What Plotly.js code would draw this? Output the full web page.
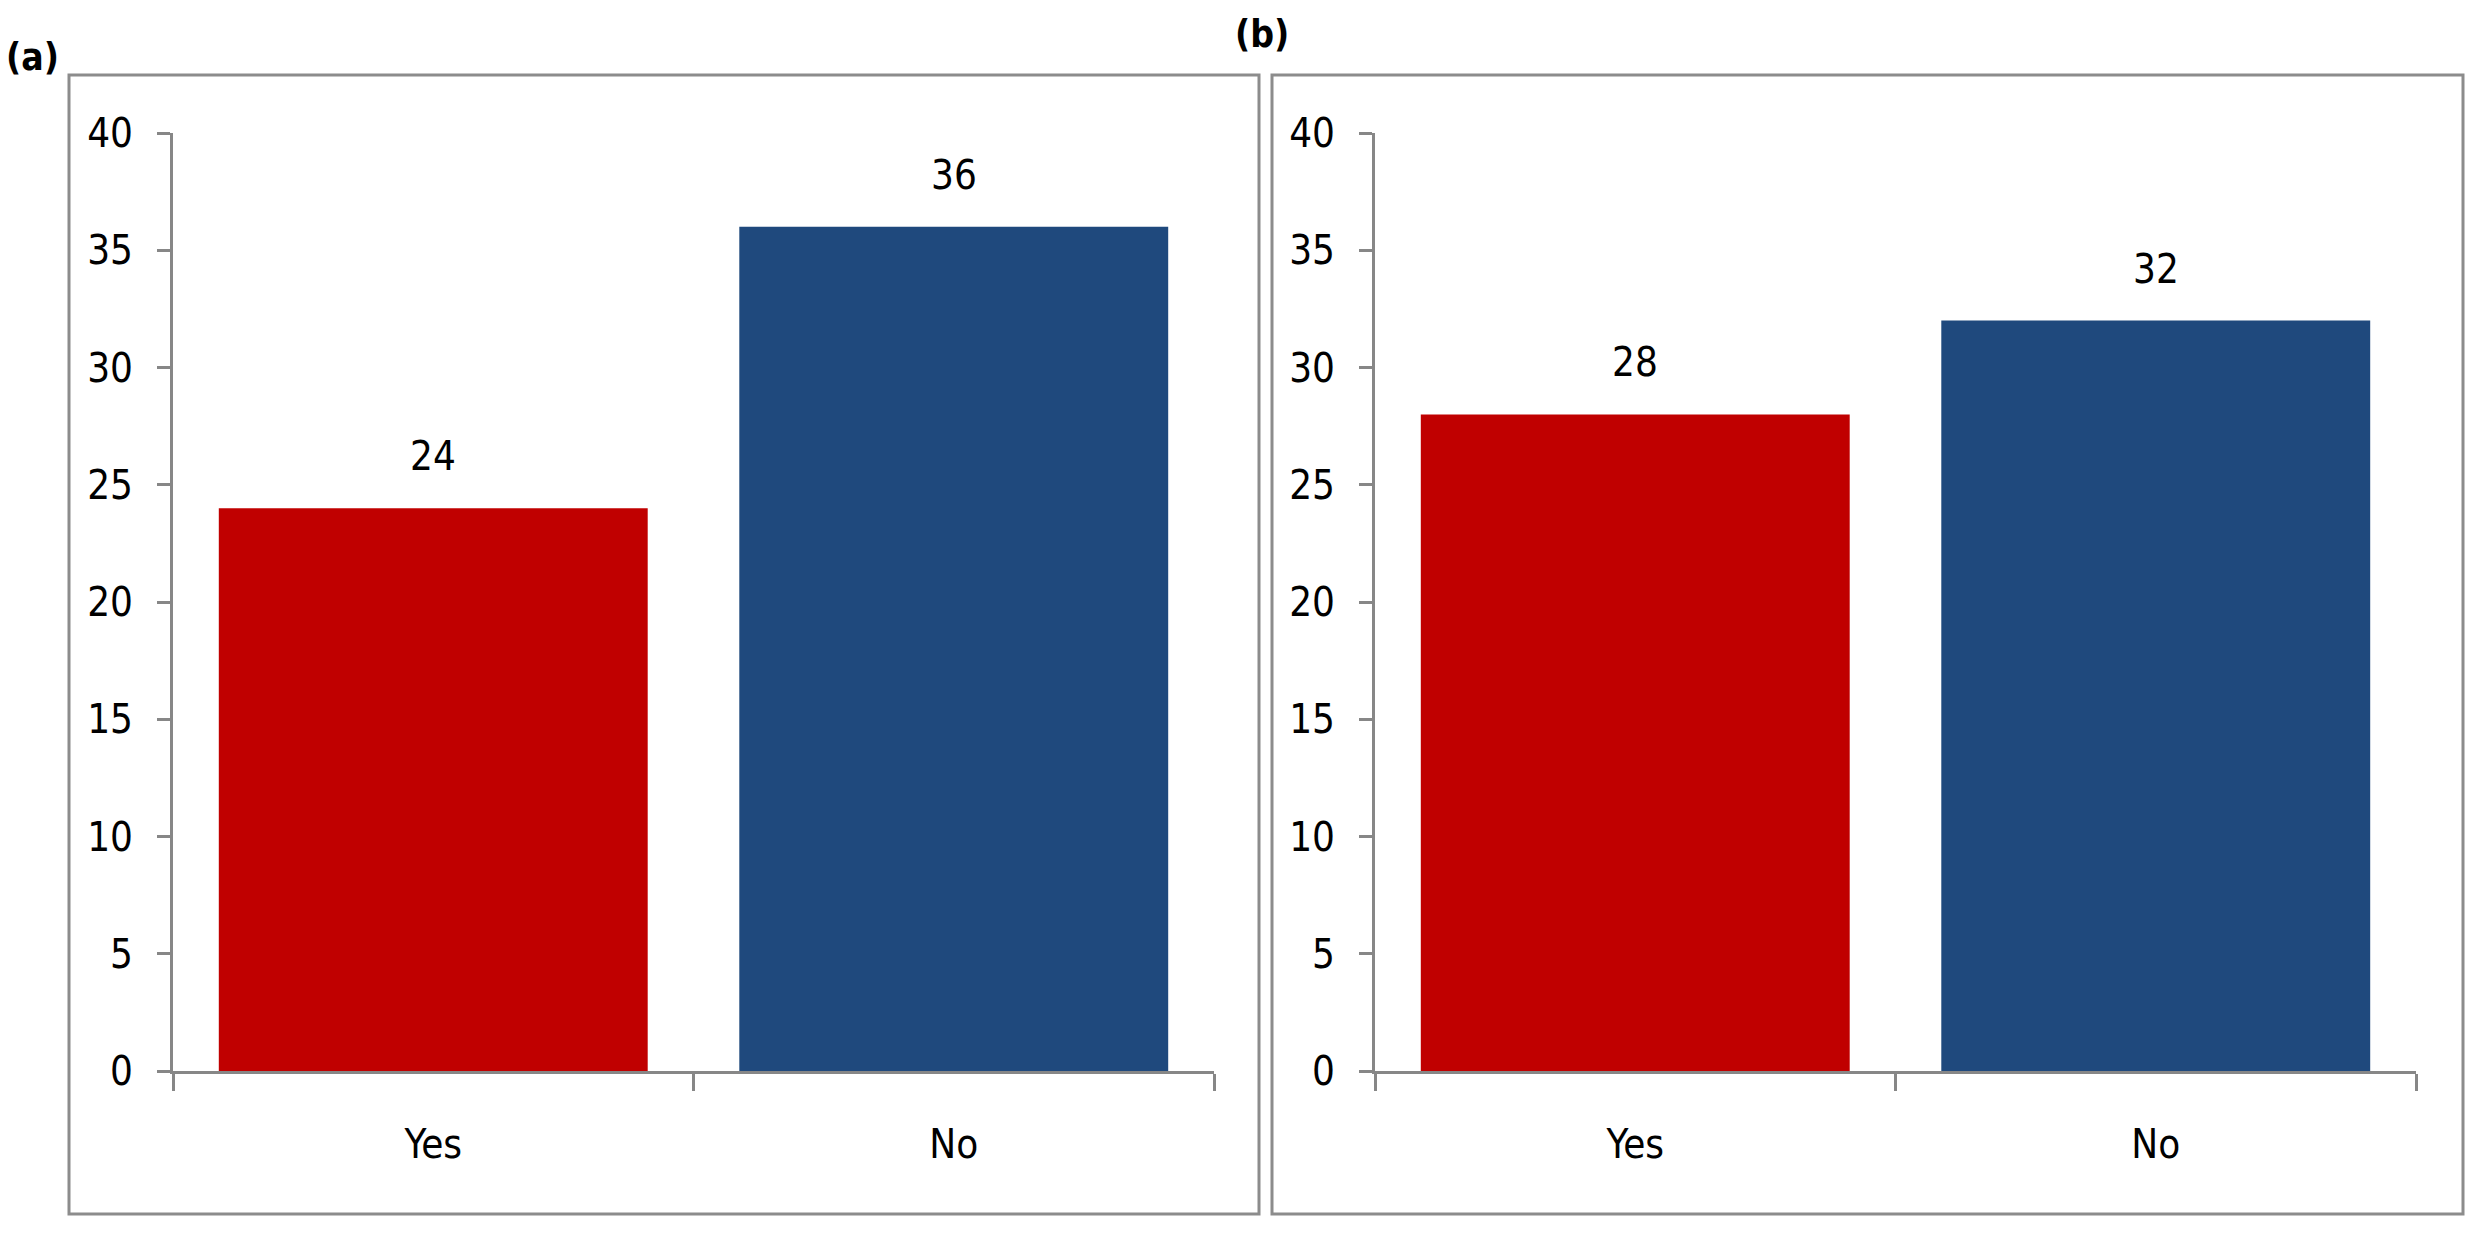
<!DOCTYPE html>
<html>
<head>
<meta charset="utf-8">
<script src="https://cdn.plot.ly/plotly-3.0.1.min.js"></script>
<style>
html,body{margin:0;padding:0;background:#fff;}
#chart{width:2489px;height:1246px;}
</style>
</head>
<body>
<div id="chart"></div>
<script>
// ---- data ----
const categories = ["Yes", "No"];
const valuesA = [24, 36];
const valuesB = [28, 32];
const barColors = ["#C00000", "#1F497D"];
const panelLabels = ["(a)", "(b)"];
const yTickVals = [0, 5, 10, 15, 20, 25, 30, 35, 40];

// ---- layout helpers (pixel -> paper) ----
const W = 2489, H = 1246;
const px = v => v / W;
const py = v => 1 - v / H;

const FONT = "Liberation Sans Narrow, Arial Narrow, DejaVu Sans Condensed, Liberation Sans, sans-serif";
const AXIS_GRAY = "#878787";

function barTrace(vals, xa, ya) {
  return {
    type: "bar",
    x: categories,
    y: vals,
    xaxis: xa,
    yaxis: ya,
    marker: {color: barColors, line: {width: 0}},
    hoverinfo: "none",
    showlegend: false
  };
}

const data = [barTrace(valuesA, "x", "y"), barTrace(valuesB, "x2", "y2")];

function xAxis(domain, anchor) {
  return {
    domain: domain,
    anchor: anchor,
    type: "category",
    tickson: "boundaries",
    ticks: "outside",
    ticklen: 17,
    tickwidth: 3,
    tickcolor: AXIS_GRAY,
    showline: true,
    linecolor: AXIS_GRAY,
    linewidth: 3,
    showgrid: false,
    zeroline: false,
    ticklabelstandoff: 36,
    tickfont: {family: FONT, size: 40, color: "#000"},
    fixedrange: true
  };
}
function yAxis(anchor) {
  return {
    domain: [1 - 1071 / H, 1 - 133 / H],
    anchor: anchor,
    range: [0, 40],
    tickvals: yTickVals,
    ticks: "outside",
    ticklen: 13,
    tickwidth: 3,
    tickcolor: AXIS_GRAY,
    showline: true,
    linecolor: AXIS_GRAY,
    linewidth: 3,
    showgrid: false,
    zeroline: false,
    ticklabelstandoff: 16,
    tickfont: {family: FONT, size: 40, color: "#000"},
    fixedrange: true
  };
}

const annotations = [];
[[valuesA, "x", "y"], [valuesB, "x2", "y2"]].forEach(([vals, xa, ya]) => {
  categories.forEach((c, i) => {
    annotations.push({
      x: c, y: vals[i], xref: xa, yref: ya,
      text: String(vals[i]),
      showarrow: false,
      yanchor: "middle",
      yshift: 52,
      font: {family: FONT, size: 40, color: "#000"}
    });
  });
});
annotations.push({
  x: px(32), y: py(58), xref: "paper", yref: "paper",
  text: panelLabels[0], showarrow: false,
  xanchor: "center", yanchor: "middle",
  font: {family: FONT, size: 37, color: "#000", weight: "bold"}
});
annotations.push({
  x: px(1262), y: py(34), xref: "paper", yref: "paper",
  text: panelLabels[1], showarrow: false,
  xanchor: "center", yanchor: "middle",
  font: {family: FONT, size: 37, color: "#000", weight: "bold"}
});

const boxLine = {color: "#8c8c8c", width: 3};
const shapes = [
  {type: "rect", xref: "paper", yref: "paper", x0: px(69), x1: px(1259), y0: py(1214), y1: py(75), line: boxLine, layer: "below"},
  {type: "rect", xref: "paper", yref: "paper", x0: px(1272), x1: px(2463), y0: py(1214), y1: py(75), line: boxLine, layer: "below"}
];

const layout = {
  width: W,
  height: H,
  margin: {l: 0, r: 0, t: 0, b: 0, pad: 0},
  paper_bgcolor: "#ffffff",
  plot_bgcolor: "rgba(0,0,0,0)",
  bargap: 0.176,
  showlegend: false,
  xaxis: xAxis([px(173), px(1214)], "y"),
  yaxis: yAxis("x"),
  xaxis2: xAxis([px(1375), px(2416)], "y2"),
  yaxis2: yAxis("x2"),
  annotations: annotations,
  shapes: shapes,
  font: {family: FONT, color: "#000"}
};

Plotly.newPlot("chart", data, layout, {displayModeBar: false, staticPlot: true});
</script>
</body>
</html>
